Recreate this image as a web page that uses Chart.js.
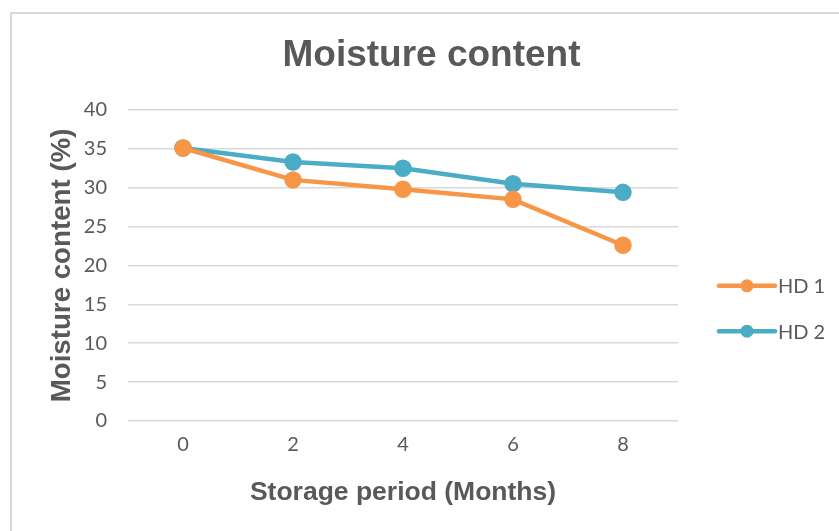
<!DOCTYPE html>
<html>
<head>
<meta charset="utf-8">
<title>Moisture content</title>
<script src="https://cdn.jsdelivr.net/npm/chart.js@4/dist/chart.umd.min.js"></script>
<style>
  html, body { margin: 0; padding: 0; background: #ffffff; overflow: hidden; }
  #wrap { position: relative; width: 839px; height: 531px; }
  #frame {
    position: absolute; left: 10px; top: 12px; width: 900px; height: 600px;
    border: 2px solid #d9d9d9; box-sizing: border-box;
  }
  #chart { position: absolute; left: 0; top: 0; }
</style>
</head>
<body>
<div id="wrap">
  <div id="frame"></div>
  <canvas id="chart" width="839" height="531"></canvas>
</div>
<script>
// Storage period in months
const months = ['0', '2', '4', '6', '8'];
// Moisture content (%) per treatment
const hd1 = [35.1, 31.0, 29.8, 28.5, 22.6];
const hd2 = [35.1, 33.3, 32.5, 30.5, 29.4];
const seriesNames = ['HD 1', 'HD 2'];
// Y axis range and step
const yMin = 0, yMax = 40, yStep = 5;

const textGrey = '#595959';
const colors = ['#F79646', '#4BACC6'];

// Legend on the right: line with a marker, followed by the series name
const lineMarkerLegend = {
  id: 'lineMarkerLegend',
  afterDraw(chart) {
    const ctx = chart.ctx;
    const area = chart.chartArea;
    const x0 = area.right + 41;
    const lineLen = 56;
    const gap = 45.3;
    const centerY = 308.5;
    const n = chart.data.datasets.length;
    ctx.save();
    chart.data.datasets.forEach((ds, i) => {
      const y = centerY + (i - (n - 1) / 2) * gap;
      ctx.strokeStyle = ds.borderColor;
      ctx.lineWidth = ds.borderWidth;
      ctx.lineCap = 'round';
      ctx.beginPath();
      ctx.moveTo(x0, y);
      ctx.lineTo(x0 + lineLen, y);
      ctx.stroke();
      ctx.fillStyle = ds.pointBackgroundColor;
      ctx.beginPath();
      ctx.arc(x0 + lineLen / 2, y, ds.pointRadius, 0, Math.PI * 2);
      ctx.fill();
      ctx.fillStyle = textGrey;
      ctx.font = '20px Lato, "Open Sans", sans-serif';
      ctx.textBaseline = 'middle';
      ctx.textAlign = 'left';
      ctx.fillText(ds.label, x0 + lineLen + 3, y + 1);
    });
    ctx.restore();
  }
};

const makeSeries = (label, data, color) => ({
  label,
  data,
  borderColor: color,
  backgroundColor: color,
  pointBackgroundColor: color,
  pointBorderColor: color,
  borderWidth: 4.5,
  pointRadius: 6.5,
  pointHoverRadius: 6.5,
  tension: 0,
  fill: false,
  yAxisID: 'y'
});

new Chart(document.getElementById('chart'), {
  type: 'line',
  data: {
    labels: months,
    datasets: [
      makeSeries(seriesNames[0], hd1, colors[0]),
      makeSeries(seriesNames[1], hd2, colors[1])
    ]
  },
  options: {
    responsive: false,
    animation: false,
    events: [],
    layout: { padding: { left: 24, right: 0, top: 0, bottom: 0 } },
    plugins: {
      legend: { display: false },
      tooltip: { enabled: false },
      title: {
        display: true,
        text: 'Moisture content',
        color: textGrey,
        font: { family: '"Liberation Sans", Arial, sans-serif', size: 37, weight: 'bold' },
        padding: { top: 33.5, bottom: 32 }
      }
    },
    scales: {
      x: {
        type: 'category',
        offset: true,
        grid: { display: false, drawTicks: false },
        border: { display: false },
        ticks: {
          color: textGrey,
          font: { family: 'Lato, "Open Sans", sans-serif', size: 20 },
          padding: 12
        },
        title: {
          display: true,
          text: 'Storage period (Months)',
          color: textGrey,
          font: { family: '"Liberation Sans", Arial, sans-serif', size: 26.5, weight: 'bold' },
          padding: { top: 0, bottom: 22 }
        },
        afterFit(scale) { scale.height = 110; }
      },
      y: {
        min: yMin,
        max: yMax,
        ticks: {
          stepSize: yStep,
          color: textGrey,
          font: { family: 'Lato, "Open Sans", sans-serif', size: 20 },
          padding: 21
        },
        grid: { color: '#d9d9d9', lineWidth: 1.5, drawTicks: false },
        border: { display: false },
        title: {
          display: true,
          text: 'Moisture content (%)',
          color: textGrey,
          font: { family: '"Liberation Sans", Arial, sans-serif', size: 27.7, weight: 'bold' },
          padding: { top: 21.4, bottom: 0 }
        },
        afterFit(scale) { scale.width = 104; }
      },
      // empty column on the right that holds the legend
      legendSpace: {
        type: 'linear',
        position: 'right',
        grid: { display: false, drawTicks: false },
        border: { display: false },
        ticks: { display: false },
        afterFit(scale) { scale.width = 161; }
      }
    }
  },
  plugins: [lineMarkerLegend]
});
</script>
</body>
</html>
